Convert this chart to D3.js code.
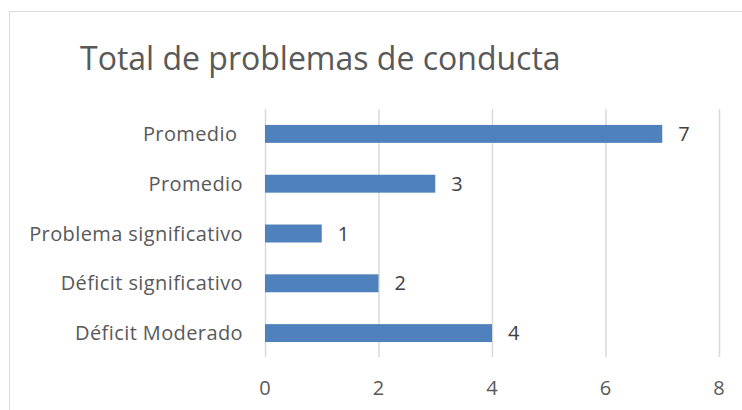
<!DOCTYPE html>
<html>
<head>
<meta charset="utf-8">
<script src="https://cdn.jsdelivr.net/npm/d3@7"></script>
<style>
  body { margin: 0; background: #fff; }
  text { font-family: "Open Sans", sans-serif; }
</style>
</head>
<body>
<div class="chart"></div>
<script>
// chart data
var categories = ['Promedio ', 'Promedio', 'Problema significativo', 'Déficit significativo', 'Déficit Moderado'];
var values = [7, 3, 1, 2, 4];
var xTicks = [0, 2, 4, 6, 8];
var title = 'Total de problemas de conducta';

var size = {'x': 742, 'y': 410};
var svg = d3.select('.chart')
  .append('svg')
    .attr('width', size.x)
    .attr('height', size.y);

// outer border
svg.append('rect')
  .attr('x', 9.5).attr('y', 11.5)
  .attr('width', 760).attr('height', 420)
  .attr('fill', 'none')
  .attr('stroke', '#d9d9d9');

svg.append('text')
  .attr('x', 80).attr('y', 70)
  .attr('font-size', 32)
  .attr('fill', '#595959')
  .text(title);

var x = d3.scaleLinear().domain([0, 8]).range([265, 719]);
var y = d3.scaleBand().domain(categories).range([109, 358]).paddingInner(0.64).paddingOuter(0.32);

// gridlines
svg.selectAll('.grid')
  .data(xTicks)
  .enter().append('line')
    .attr('class', 'grid')
    .attr('x1', function(d){ return x(d) + 0.5 })
    .attr('x2', function(d){ return x(d) + 0.5 })
    .attr('y1', 109)
    .attr('y2', 357)
    .attr('stroke', '#d9d9d9')
    .attr('stroke-width', 1.5);

// x tick labels
svg.selectAll('.xlab')
  .data(xTicks)
  .enter().append('text')
    .attr('class', 'xlab')
    .attr('x', function(d){ return x(d) })
    .attr('y', 395)
    .attr('text-anchor', 'middle')
    .attr('font-size', 20)
    .attr('fill', '#595959')
    .text(function(d){ return d });

// category labels
svg.selectAll('.ylab')
  .data(categories)
  .enter().append('text')
    .attr('class', 'ylab')
    .attr('x', 243)
    .attr('y', function(d){ return y(d) + y.bandwidth() / 2 })
    .attr('dy', '0.35em')
    .attr('text-anchor', 'end')
    .attr('font-size', 20)
    .attr('letter-spacing', 0.4)
    .attr('fill', '#595959')
    .style('white-space', 'pre')
    .text(function(d){ return d });

// bars
svg.selectAll('.bar')
  .data(values)
  .enter().append('rect')
    .attr('class', 'bar')
    .attr('x', x(0))
    .attr('y', function(d, i){ return y(categories[i]) })
    .attr('width', function(d){ return x(d) - x(0) })
    .attr('height', y.bandwidth())
    .attr('fill', '#4f81bd');

// value labels
svg.selectAll('.val')
  .data(values)
  .enter().append('text')
    .attr('class', 'val')
    .attr('x', function(d){ return x(d) + 16 })
    .attr('y', function(d, i){ return y(categories[i]) + y.bandwidth() / 2 })
    .attr('dy', '0.35em')
    .attr('font-size', 20)
    .attr('fill', '#404040')
    .text(function(d){ return d });
</script>
</body>
</html>
